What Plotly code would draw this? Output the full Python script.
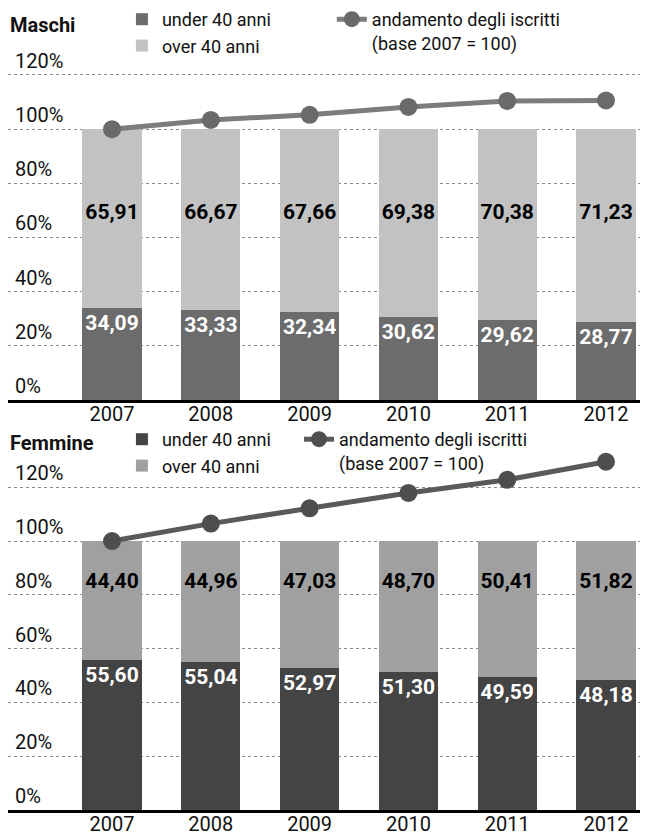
import plotly.graph_objects as go

years = ["2007", "2008", "2009", "2010", "2011", "2012"]

maschi_under = [34.09, 33.33, 32.34, 30.62, 29.62, 28.77]
maschi_over = [65.91, 66.67, 67.66, 69.38, 70.38, 71.23]
maschi_iscritti = [100, 103.4, 105.3, 108.2, 110.4, 110.6]

femmine_under = [55.60, 55.04, 52.97, 51.30, 49.59, 48.18]
femmine_over = [44.40, 44.96, 47.03, 48.70, 50.41, 51.82]
femmine_iscritti = [100, 106.5, 112.2, 117.9, 122.8, 129.5]

tick_vals = [0, 20, 40, 60, 80, 100, 120]
tick_text = ["0%", "20%", "40%", "60%", "80%", "100%", "120%"]

def fmt(v):
    return f"{v:.2f}".replace(".", ",")

FONT = "Roboto, Lato, sans-serif"

fig = go.Figure()

panels = [
    dict(under=maschi_under, over=maschi_over, line=maschi_iscritti,
         xa="x", ya="y", leg_bar="legend", leg_line="legend2",
         c_under="#6c6c6c", c_over="#c2c2c2", c_line="#7c7c7c", c_mark="#6a6a6a",
         label_y=68.6),
    dict(under=femmine_under, over=femmine_over, line=femmine_iscritti,
         xa="x2", ya="y2", leg_bar="legend3", leg_line="legend4",
         c_under="#444444", c_over="#a0a0a0", c_line="#5a5a5a", c_mark="#4e4e4e",
         label_y=84.4),
]

for p in panels:
    fig.add_trace(go.Bar(
        x=years, y=p["under"], name="under 40 anni",
        marker=dict(color=p["c_under"], line=dict(width=0)),
        width=0.6,
        text=[fmt(v) for v in p["under"]], textposition="inside",
        insidetextanchor="end", textangle=0, constraintext="none",
        textfont=dict(color="white", size=21, family=FONT, weight="bold"),
        xaxis=p["xa"], yaxis=p["ya"], legend=p["leg_bar"],
    ))
    fig.add_trace(go.Bar(
        x=years, y=p["over"], name="over 40 anni",
        marker=dict(color=p["c_over"], line=dict(width=0)),
        width=0.6,
        xaxis=p["xa"], yaxis=p["ya"], legend=p["leg_bar"],
    ))
    fig.add_trace(go.Scatter(
        x=years, y=[p["label_y"]] * len(years), mode="text",
        text=[fmt(v) for v in p["over"]],
        textfont=dict(color="black", size=21, family=FONT, weight="bold"),
        showlegend=False, hoverinfo="skip",
        xaxis=p["xa"], yaxis=p["ya"],
    ))
    fig.add_trace(go.Scatter(
        x=years, y=p["line"], mode="lines+markers",
        name="andamento degli iscritti<br>(base 2007 = 100)",
        line=dict(color=p["c_line"], width=5),
        marker=dict(color=p["c_mark"], size=18),
        cliponaxis=False,
        xaxis=p["xa"], yaxis=p["ya"], legend=p["leg_line"],
    ))

xcommon = dict(
    type="category", range=[-1.053, 5.425],
    showline=True, linecolor="black", linewidth=2.5,
    ticks="", ticklen=0, ticklabelstandoff=-6,
    tickfont=dict(size=20, family=FONT, color="#111"),
    showgrid=False, fixedrange=True,
)
ycommon = dict(
    tickvals=tick_vals, ticktext=tick_text,
    ticklabelposition="inside top", ticklabelstandoff=4,
    tickfont=dict(size=20, family=FONT, color="#111"),
    showgrid=True, gridcolor="#8a8a8a", griddash="dot", gridwidth=1,
    zeroline=False, showline=False, ticks="",
)

legend_common = dict(
    font=dict(size=18, family=FONT, color="#111"),
    bgcolor="rgba(0,0,0,0)", xanchor="left", yanchor="top",
    traceorder="normal", valign="top", tracegroupgap=0,
)

fig.update_layout(
    width=640, height=832,
    margin=dict(l=0, r=0, t=0, b=0, autoexpand=False),
    paper_bgcolor="white", plot_bgcolor="white",
    barmode="stack",
    font=dict(family=FONT, color="#111"),
    xaxis=dict(**xcommon, anchor="y", domain=[0, 1]),
    yaxis=dict(**ycommon, range=[0, 134], domain=[0.5288, 0.9651], anchor="x"),
    xaxis2=dict(**xcommon, anchor="y2", domain=[0, 1]),
    yaxis2=dict(**ycommon, range=[0, 135], domain=[0.03606, 0.4724], anchor="x2"),
    legend=dict(**legend_common, x=0.178, y=1.0084),
    legend2=dict(**legend_common, x=0.506, y=1.0084),
    legend3=dict(**legend_common, x=0.178, y=0.5036),
    legend4=dict(**legend_common, x=0.4547, y=0.5036),
    showlegend=True,
    annotations=[
        dict(text="<b>Maschi</b>", x=0, y=0.9796, xref="paper", yref="paper",
             xanchor="left", yanchor="middle", showarrow=False,
             font=dict(size=20, family=FONT, color="#111")),
        dict(text="<b>Femmine</b>", x=0, y=0.4772, xref="paper", yref="paper",
             xanchor="left", yanchor="middle", showarrow=False,
             font=dict(size=20, family=FONT, color="#111")),
    ],
)

fig.write_html("out.html")
